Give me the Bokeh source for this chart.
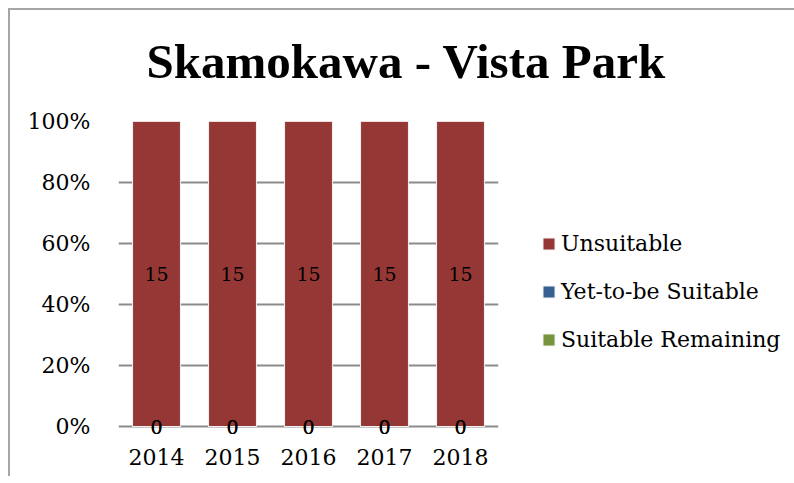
from bokeh.plotting import figure
from bokeh.models import ColumnDataSource, Legend, LegendItem, FixedTicker, Range1d, Title
from bokeh.core.properties import value
from bokeh.embed import file_html
from bokeh.resources import INLINE

years = ["2014", "2015", "2016", "2017", "2018"]
unsuitable = [15, 15, 15, 15, 15]
yet_to_be_suitable = [0, 0, 0, 0, 0]
suitable_remaining = [0, 0, 0, 0, 0]
y_ticks = [0, 0.2, 0.4, 0.6, 0.8, 1.0]
y_tick_labels = ["0%", "20%", "40%", "60%", "80%", "100%"]
title_text = "Skamokawa - Vista Park"
series_names = ["Unsuitable", "Yet-to-be Suitable", "Suitable Remaining"]
colors = {"Unsuitable": "#953735", "Yet-to-be Suitable": "#376092", "Suitable Remaining": "#77933C"}

FONT = "DejaVu Serif"
GRID = "#8c8c8c"

x = [i + 0.5 for i in range(len(years))]
totals = [a + b + c for a, b, c in zip(unsuitable, yet_to_be_suitable, suitable_remaining)]
sr = [v / t for v, t in zip(suitable_remaining, totals)]
yt = [v / t for v, t in zip(yet_to_be_suitable, totals)]
un = [v / t for v, t in zip(unsuitable, totals)]

src = ColumnDataSource(dict(x=x, sr=sr, yt=yt, un=un))

# frame: 380 x 320 px; 0..1 spans 305 px, a little room below 0 for the "0" labels
p = figure(frame_width=380, frame_height=320, x_range=Range1d(0, len(years)), y_range=Range1d(-15 / 305, 1),
           output_backend="svg", toolbar_location=None, title=None,
           min_border_left=108, min_border_right=288, min_border_top=110, min_border_bottom=35)
p.outline_line_color = None
p.background_fill_color = "white"
p.border_fill_color = "white"
p.styles = {"margin-left": "8px", "margin-top": "8px",
            "border-top": "2px solid #a6a6a6", "border-left": "2px solid #a6a6a6"}

rs = p.vbar_stack(["sr", "yt", "un"], x="x", width=0.63, source=src,
                  color=[colors["Suitable Remaining"], colors["Yet-to-be Suitable"], colors["Unsuitable"]],
                  line_color="#f2f2f2", line_width=1)

# data labels
un_c = [s + y + u / 2 for s, y, u in zip(sr, yt, un)]
yt_c = [s + y / 2 for s, y in zip(sr, yt)]
sr_c = [s / 2 for s in sr]
lab_src = ColumnDataSource(dict(
    x=x * 3,
    y=un_c + yt_c + sr_c,
    t=[str(v) for v in unsuitable] + [str(v) for v in yet_to_be_suitable] + [str(v) for v in suitable_remaining],
))
p.text(x="x", y="y", text="t", source=lab_src, text_align="center", text_baseline="middle",
       text_font=value(FONT), text_font_size="19px", text_color="black")

# grid (the 0% line doubles as the category axis line)
p.xgrid.visible = False
p.ygrid.ticker = FixedTicker(ticks=y_ticks)
p.ygrid.grid_line_color = GRID
p.ygrid.grid_line_width = 2
p.ygrid.level = "underlay"

# axes
p.yaxis.ticker = FixedTicker(ticks=y_ticks)
p.yaxis.major_label_overrides = {t: l for t, l in zip(y_ticks, y_tick_labels)}
p.yaxis.axis_line_color = None
p.yaxis.major_tick_line_color = None
p.yaxis.minor_tick_line_color = None
p.yaxis.major_label_standoff = 22
p.yaxis.major_label_text_font = FONT
p.yaxis.major_label_text_font_size = "22px"
p.yaxis.major_label_text_color = "black"

p.xaxis.ticker = FixedTicker(ticks=x)
p.xaxis.major_label_overrides = {xx: yy for xx, yy in zip(x, years)}
p.xaxis.axis_line_color = None
p.xaxis.major_tick_line_color = None
p.xaxis.minor_tick_line_color = None
p.xaxis.major_tick_out = 0
p.xaxis.major_tick_in = 0
p.xaxis.major_label_standoff = 7
p.xaxis.major_label_text_font = FONT
p.xaxis.major_label_text_font_size = "22px"
p.xaxis.major_label_text_color = "black"

# title (a tiny blank spacer title sits between the real title and the frame)
spacer = Title(text=" ", text_font_size="1px", standoff=8)
p.add_layout(spacer, "above")
title = Title(text=title_text, align="left", offset=28, standoff=43,
              text_font="Liberation Serif", text_font_style="bold", text_font_size="49px",
              text_color="black", vertical_align="bottom")
p.add_layout(title, "above")

# legend
items = [LegendItem(label=series_names[0], renderers=[rs[2]]),
         LegendItem(label=series_names[1], renderers=[rs[1]]),
         LegendItem(label=series_names[2], renderers=[rs[0]])]
legend = Legend(items=items, location=(43, 89), orientation="vertical",
                glyph_width=15, glyph_height=15, label_standoff=5, spacing=23,
                padding=0, margin=0, border_line_color=None, background_fill_alpha=0,
                label_text_font=FONT, label_text_font_size="22px", label_text_color="black")
p.add_layout(legend, "right")

open("out.html", "w").write(file_html(p, INLINE))
